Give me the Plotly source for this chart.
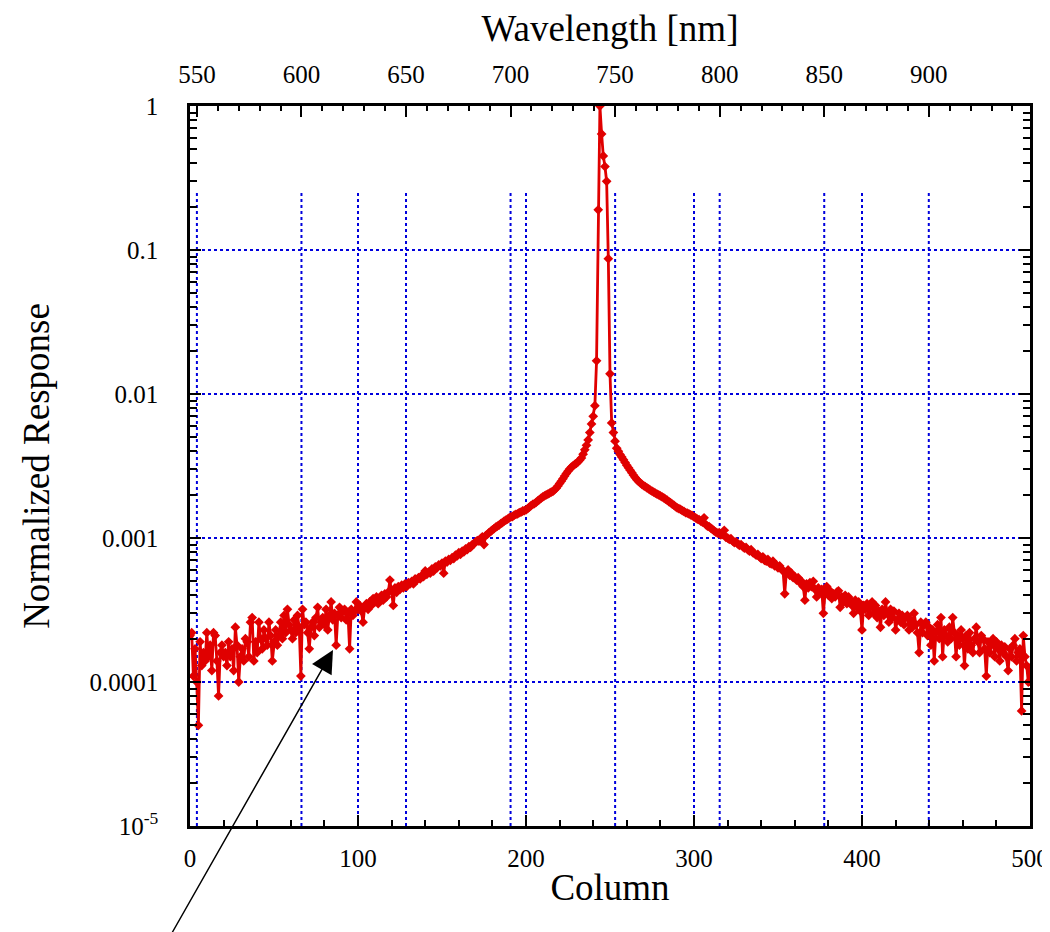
import plotly.graph_objects as go

# === Data ===
# detector column index
columns = list(range(0, 501))
# normalized response, in units of 1e-4
response_e4 = [
    2.1, 2.2, 1.1, 1.7, 1.0, 0.5, 1.9, 1.3, 1.6, 1.4,
    2.2, 1.5, 1.8, 1.2, 2.2, 2.1, 1.4, 0.8, 1.6, 1.8,
    1.5, 1.6, 1.3, 1.9, 1.5, 1.7, 1.2, 2.4, 1.8, 1.0,
    1.5, 1.7, 1.4, 2.0, 1.9, 1.5, 2.6, 2.8, 1.4, 1.9,
    1.6, 2.6, 2.0, 1.7, 2.3, 2.0, 1.8, 2.6, 2.1, 1.4,
    1.9, 2.3, 1.8, 2.1, 2.6, 2.0, 2.9, 2.2, 3.2, 2.5,
    2.3, 2.0, 2.7, 2.2, 2.9, 2.4, 1.1, 3.2, 2.5, 2.6,
    2.2, 1.7, 2.4, 2.6, 2.1, 2.8, 3.3, 2.4, 2.6, 2.8,
    2.5, 3.2, 2.3, 2.9, 3.6, 2.7, 3.0, 1.8, 2.9, 3.3,
    2.8, 3.1, 3.2, 2.7, 3.0, 1.7, 3.2, 2.9, 3.1, 3.6,
    3.2, 3.4, 3.1, 2.6, 3.3, 3.5, 3.2, 3.6, 3.4, 3.8,
    3.6, 3.9, 3.5, 3.8, 4.0, 3.7, 4.1, 3.9, 4.2, 5.1,
    4.3, 3.4, 4.5, 4.2, 4.6, 4.4, 4.7, 4.5, 4.8, 4.6,
    4.9, 4.8, 5.0, 4.8, 5.2, 5.1, 5.3, 5.2, 5.5, 5.4,
    5.9, 5.6, 5.8, 5.7, 6.1, 5.9, 6.3, 6.2, 6.5, 6.4,
    6.7, 5.7, 6.9, 6.8, 7.1, 7.0, 7.3, 7.2, 7.6, 7.5,
    7.9, 7.7, 8.1, 8.0, 8.4, 8.3, 8.7, 8.6, 9.0, 9.1,
    9.4, 9.6, 9.5, 9.9, 10.2, 9.0, 10.4, 10.6, 10.9, 11.1,
    11.4, 11.6, 11.9, 12.1, 12.3, 12.6, 12.8, 13.1, 13.3, 13.5,
    13.8, 14.0, 14.1, 14.4, 14.6, 14.7, 15.0, 15.1, 15.4, 15.5,
    15.7, 16.0, 16.4, 16.8, 17.1, 17.3, 17.7, 18.1, 18.5, 18.9,
    19.3, 19.6, 19.9, 20.2, 20.5, 20.8, 21.1, 21.6, 22.2, 23.0,
    23.9, 24.8, 25.8, 26.9, 28.0, 29.1, 30.1, 31.0, 31.7, 32.4,
    33.0, 33.8, 34.8, 36.0, 38.2, 41.0, 44.0, 48.0, 54.0, 62.0,
    70.0, 83.0, 170, 1900, 10000, 6400, 4500, 3800, 3000, 870,
    138, 63, 54, 47, 42, 40, 38, 36.5, 35, 33.5,
    32, 30.7, 29.6, 28.4, 27.3, 26.3, 25.4, 24.7, 24.1, 23.6,
    23.1, 22.7, 22.3, 21.9, 21.5, 21.2, 20.8, 20.5, 20.2, 19.9,
    19.6, 19.3, 19.0, 18.6, 18.3, 17.9, 17.6, 17.2, 16.9, 16.5,
    16.2, 16.0, 15.8, 15.5, 15.3, 15.0, 14.9, 14.7, 14.5, 14.3,
    14.0, 13.8, 13.5, 13.4, 13.1, 12.9, 13.8, 12.4, 12.1, 12.0,
    11.7, 11.5, 11.2, 11.0, 10.8, 10.9, 10.5, 10.6, 11.3, 10.1,
    10.0, 9.8, 9.9, 9.5, 9.3, 9.4, 9.1, 8.9, 9.0, 8.7,
    8.5, 8.6, 8.3, 8.1, 8.3, 7.9, 7.8, 7.6, 7.7, 7.4,
    7.2, 7.4, 7.0, 6.9, 7.1, 6.7, 6.6, 6.9, 6.4, 6.5,
    6.2, 6.4, 6.1, 5.9, 4.1, 5.8, 6.0, 5.5, 5.7, 5.3,
    5.4, 5.1, 5.3, 4.9, 5.0, 4.6, 3.7, 4.8, 4.5, 4.9,
    4.6, 5.0, 4.4, 3.9, 4.5, 4.2, 4.4, 3.0, 4.1, 4.6,
    4.0, 4.3, 3.8, 4.1, 3.9, 4.2, 4.3, 3.3, 3.9, 3.6,
    4.0, 3.5, 3.9, 3.7, 3.4, 3.0, 3.7, 3.3, 3.6, 3.1,
    2.3, 3.4, 3.2, 3.5, 2.9, 3.3, 3.6, 3.0, 3.4, 2.8,
    3.1, 2.4, 3.2, 2.9, 3.6, 3.0, 2.6, 3.2, 2.8, 3.1,
    2.3, 2.7, 3.0, 2.6, 2.9, 2.5, 2.8, 2.9, 2.3, 2.7,
    2.4, 3.0, 2.5, 2.2, 1.6, 2.6, 2.2, 2.5, 2.6, 2.1,
    2.4, 1.8, 2.3, 1.4, 2.2, 2.5, 2.0, 2.8, 1.5, 2.3,
    2.1, 1.9, 2.4, 2.0, 2.8, 2.2, 1.5, 2.1, 1.8, 2.3,
    2.0, 1.3, 2.1, 1.7, 2.2, 1.8, 1.6, 2.0, 2.4, 1.9,
    1.6, 2.1, 2.0, 1.7, 1.1, 1.9, 1.6, 1.8, 2.0, 1.5,
    1.9, 1.7, 1.4, 1.8, 1.6, 1.75, 1.5, 1.2, 1.7, 1.5,
    1.8, 2.0, 1.4, 1.6, 1.7, 0.63, 2.1, 1.5, 1.3, 1.0,
    1.25,
]
response = [v * 1e-4 for v in response_e4]

# axis ticks
col_ticks = [0, 100, 200, 300, 400, 500]
wl_ticks = [550, 600, 650, 700, 750, 800, 850, 900]
wl_range = [546.7, 948.4]  # wavelength at column 0 and 500
y_ticks = [1e-5, 1e-4, 1e-3, 1e-2, 1e-1, 1]
y_ticktext = ["10<sup>-5</sup>", "0.0001", "0.001", "0.01", "0.1", "1"]

RED = "#e00000"
BLUE = "#0000dd"
FONT = "Liberation Serif"

fig = go.Figure()
fig.add_trace(go.Scatter(
    x=columns, y=response, mode="lines+markers",
    line=dict(color=RED, width=2.8),
    marker=dict(symbol="diamond", size=7.5, color=RED),
    showlegend=False,
))
# empty trace so the top wavelength axis gets drawn
fig.add_trace(go.Scatter(x=[], y=[], xaxis="x2", yaxis="y", showlegend=False))

# vertical grid lines (they stop short of the top in the original)
grid_top = 0.883
for c in col_ticks[1:-1]:
    fig.add_shape(type="line", xref="x", yref="paper", x0=c, x1=c, y0=0, y1=grid_top,
                  line=dict(color=BLUE, width=2, dash="dot"), layer="below")
for w in wl_ticks:
    fig.add_shape(type="line", xref="x2", yref="paper", x0=w, x1=w, y0=0, y1=grid_top,
                  line=dict(color=BLUE, width=2, dash="dot"), layer="below")

# arrow pointing at the noisy wing
fig.add_annotation(
    xref="paper", yref="paper", x=0.1702, y=0.2444, text="",
    showarrow=True, arrowhead=2, arrowsize=3, arrowwidth=1.5, arrowcolor="black",
    ax=-165, ay=290,
)

axis_common = dict(
    showline=True, linecolor="black", linewidth=2.5,
    ticks="inside", tickcolor="black", tickwidth=2, ticklen=11,
    showgrid=False, zeroline=False, automargin=False,
    tickfont=dict(family=FONT, size=25, color="black"),
)

# the page adds an 8px body margin, so the margins are offset to compensate
fig.update_layout(
    width=1050, height=932,
    margin=dict(l=182, r=28, t=98, b=114),
    paper_bgcolor="white", plot_bgcolor="white",
    font=dict(family=FONT, color="black"),
    xaxis=dict(
        **axis_common, range=[0, 500], tickvals=col_ticks, ticklabelstandoff=8,
        minor=dict(dtick=20, ticks="inside", ticklen=6, tickwidth=1.5, tickcolor="black"),
        title=dict(text="Column", font=dict(family=FONT, size=37), standoff=4),
    ),
    xaxis2=dict(
        **axis_common, overlaying="x", side="top", range=wl_range, tickvals=wl_ticks,
        ticklabelstandoff=10,
        minor=dict(dtick=10, ticks="inside", ticklen=5, tickwidth=1.5, tickcolor="black"),
        title=dict(text="Wavelength [nm]", font=dict(family=FONT, size=37), standoff=12),
    ),
    yaxis=dict(
        showline=True, linecolor="black", linewidth=2.5, mirror="ticks", automargin=False,
        ticks="inside", tickcolor="black", tickwidth=2, ticklen=11,
        tickfont=dict(family=FONT, size=25, color="black"), ticklabelstandoff=24,
        type="log", range=[-5, 0], tickvals=y_ticks, ticktext=y_ticktext,
        showgrid=True, gridcolor=BLUE, griddash="dot", gridwidth=2, zeroline=False,
        minor=dict(dtick="D1", ticks="inside", ticklen=7, tickwidth=1.5, tickcolor="black",
                   showgrid=False),
        title=dict(text="Normalized Response", font=dict(family=FONT, size=37), standoff=29),
    ),
)

fig.write_html("out.html")
